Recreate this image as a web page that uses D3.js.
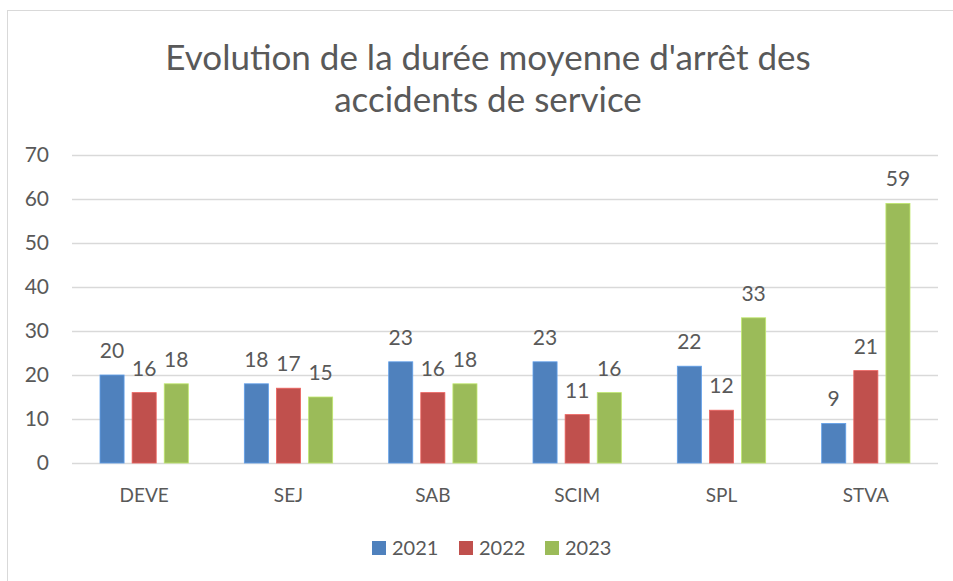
<!DOCTYPE html>
<html>
<head>
<meta charset="utf-8">
<script src="https://cdn.jsdelivr.net/npm/d3@7"></script>
<style>
  body { margin: 0; background: #fff; }
  text { font-family: Lato, "Open Sans", sans-serif; fill: #595959; }
</style>
</head>
<body>
<div id="chart"></div>
<script>
var categories = ["DEVE", "SEJ", "SAB", "SCIM", "SPL", "STVA"];
var years = ["2021", "2022", "2023"];
var values2021 = [20, 18, 23, 23, 22, 9];
var values2022 = [16, 17, 16, 11, 12, 21];
var values2023 = [18, 15, 18, 16, 33, 59];
var yTicks = [0, 10, 20, 30, 40, 50, 60, 70];
var colors = ["#4F81BD", "#C0504D", "#9BBB59"];

var width = 953, height = 581;
var series = [values2021, values2022, values2023];

var svg = d3.select("#chart").append("svg")
    .attr("width", width)
    .attr("height", height);

// chart border
svg.append("rect")
    .attr("x", 7.5).attr("y", 10.5)
    .attr("width", 960).attr("height", 600)
    .attr("fill", "none")
    .attr("stroke", "#d9d9d9");

// title
svg.append("text")
    .attr("x", 488).attr("y", 70)
    .attr("text-anchor", "middle")
    .style("font-size", "35px")
    .text("Evolution de la durée moyenne d'arrêt des");
svg.append("text")
    .attr("x", 488).attr("y", 112)
    .attr("text-anchor", "middle")
    .style("font-size", "35px")
    .text("accidents de service");

var x = d3.scaleBand().domain(categories).range([72, 938]).paddingInner(0).paddingOuter(0);
var y = d3.scaleLinear().domain([0, 70]).range([463, 155]);
var xSub = d3.scaleBand().domain(years).range([28, x.bandwidth() - 28]).paddingInner(0.25);

// gridlines
svg.selectAll(".grid")
    .data(yTicks)
    .enter().append("line")
    .attr("class", "grid")
    .attr("x1", 72).attr("x2", 938)
    .attr("y1", function(d) { return y(d) + 0.5 })
    .attr("y2", function(d) { return y(d) + 0.5 })
    .attr("stroke", "#d9d9d9")
    .attr("stroke-width", 1.3);

// y tick labels
svg.selectAll(".ylab")
    .data(yTicks)
    .enter().append("text")
    .attr("class", "ylab")
    .attr("x", 49)
    .attr("y", function(d) { return y(d) })
    .attr("dy", "0.35em")
    .attr("text-anchor", "end")
    .style("font-size", "21px")
    .text(function(d) { return d });

// x labels
svg.selectAll(".xlab")
    .data(categories)
    .enter().append("text")
    .attr("class", "xlab")
    .attr("x", function(d) { return x(d) + x.bandwidth() / 2 })
    .attr("y", 502)
    .attr("text-anchor", "middle")
    .style("font-size", "19px")
    .text(function(d) { return d });

// bars
years.forEach(function(yr, i) {
    var g = svg.append("g");
    var rows = categories.map(function(c, j) { return { cat: c, v: series[i][j] } });
    g.selectAll("rect")
        .data(rows)
        .enter().append("rect")
        .attr("x", function(d) { return x(d.cat) + xSub(yr) })
        .attr("y", function(d) { return y(d.v) })
        .attr("width", xSub.bandwidth())
        .attr("height", function(d) { return y(0) - y(d.v) })
        .attr("fill", colors[i])
        .attr("stroke", d3.color(colors[i]).brighter(0.6))
        .attr("stroke-width", 0.8);
    g.selectAll("text")
        .data(rows)
        .enter().append("text")
        .attr("x", function(d) { return x(d.cat) + xSub(yr) + xSub.bandwidth() / 2 })
        .attr("y", function(d) { return y(d.v) - 17 })
        .attr("text-anchor", "middle")
        .style("font-size", "21px")
        .text(function(d) { return d.v });
});

// legend
var legendX = [372, 459, 545];
years.forEach(function(yr, i) {
    svg.append("rect")
        .attr("x", legendX[i]).attr("y", 541)
        .attr("width", 14).attr("height", 14)
        .attr("fill", colors[i]);
    svg.append("text")
        .attr("x", legendX[i] + 20).attr("y", 548)
        .attr("dy", "0.35em")
        .style("font-size", "20px")
        .text(yr);
});
</script>
</body>
</html>
